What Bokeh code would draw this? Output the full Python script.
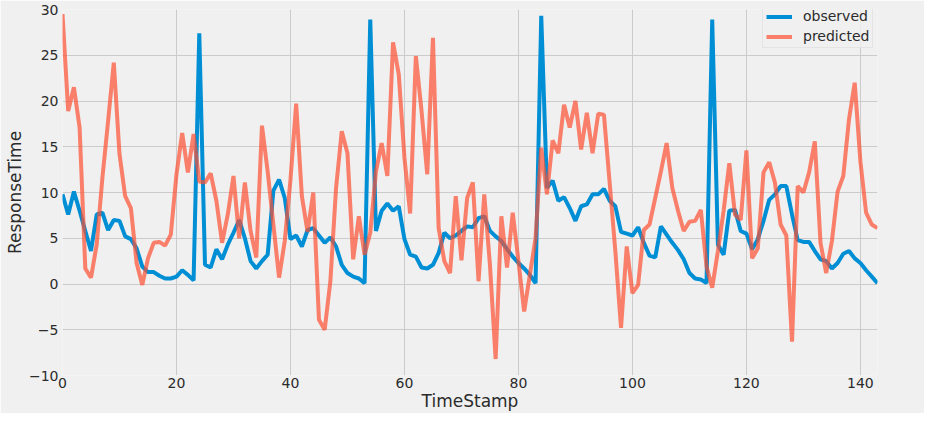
from bokeh.plotting import figure
from bokeh.models import ColumnDataSource, Legend, LegendItem, FixedTicker, Range1d
from bokeh.embed import file_html
from bokeh.resources import INLINE

timestamp = list(range(144))

observed = [
    9.8, 7.6, 10.1, 8.0, 5.8, 3.6, 7.6, 7.8, 5.9, 7.0,
    6.9, 5.2, 4.9, 3.9, 1.9, 1.3, 1.3, 0.9, 0.6, 0.6,
    0.8, 1.5, 1.0, 0.4, 27.4, 2.1, 1.8, 3.8, 2.7, 4.3,
    5.6, 7.0, 5.0, 2.5, 1.7, 2.5, 3.2, 10.2, 11.4, 9.4,
    4.9, 5.3, 4.1, 5.9, 6.1, 5.3, 4.5, 5.1, 4.1, 2.1,
    1.2, 0.8, 0.6, 0.1, 28.9, 5.8, 8.0, 8.8, 8.0, 8.5,
    4.9, 3.2, 3.0, 1.8, 1.7, 2.1, 3.4, 5.6, 5.0, 5.3,
    5.8, 6.3, 6.2, 7.2, 7.4, 5.8, 5.2, 4.7, 3.8, 3.0,
    2.3, 1.7, 1.0, 0.1, 29.3, 10.5, 11.3, 9.1, 9.5, 8.3,
    6.9, 8.5, 8.7, 9.8, 9.8, 10.4, 9.1, 8.5, 5.7, 5.5,
    5.3, 6.2, 4.5, 3.1, 2.9, 6.3, 5.4, 4.5, 3.7, 2.7,
    1.2, 0.6, 0.5, 0.1, 28.9, 4.3, 3.2, 8.0, 8.1, 5.8,
    5.5, 3.8, 4.9, 6.9, 9.2, 9.8, 10.7, 10.7, 7.6, 4.8,
    4.6, 4.6, 3.6, 2.7, 2.5, 1.7, 2.3, 3.3, 3.6, 2.8,
    2.3, 1.5, 0.8, 0.1,
]

predicted = [
    29.5, 18.9, 21.5, 17.1, 1.7, 0.7, 4.3, 11.6, 17.8, 24.2,
    14.2, 9.6, 8.3, 2.3, -0.1, 2.8, 4.5, 4.6, 4.2, 5.4,
    12.0, 16.5, 12.2, 16.4, 11.2, 11.1, 12.1, 9.1, 4.5, 7.6,
    11.8, 5.0, 11.1, 5.8, 2.9, 17.3, 12.3, 6.5, 0.7, 4.7,
    11.4, 19.7, 9.6, 5.7, 10.0, -3.9, -5.0, 0.3, 10.5, 16.7,
    14.3, 2.7, 7.4, 3.2, 5.6, 12.3, 15.4, 11.8, 26.4, 22.9,
    13.8, 7.7, 24.9, 18.9, 12.0, 26.9, 6.1, 2.5, 1.2, 9.6,
    2.6, 9.4, 11.1, 0.3, 9.8, 2.1, -8.2, 7.4, 1.8, 7.8,
    2.5, -3.0, 1.0, 5.0, 14.9, 9.8, 15.7, 14.3, 19.6, 17.1,
    20.0, 14.7, 18.7, 14.3, 18.6, 18.5, 11.1, 3.6, -4.8, 4.1,
    -1.0, -0.1, 5.9, 6.5, 9.4, 12.3, 15.4, 10.5, 8.0, 5.8,
    6.8, 6.9, 8.1, 1.9, -0.4, 3.6, 8.0, 13.2, 7.6, 7.0,
    14.6, 2.8, 3.9, 12.2, 13.3, 11.1, 6.5, 5.3, -6.3, 10.7,
    10.0, 12.2, 15.6, 4.5, 1.2, 4.7, 10.1, 11.8, 18.0, 22.0,
    13.4, 7.8, 6.5, 6.1,
]

x_ticks = [0, 20, 40, 60, 80, 100, 120, 140]
y_ticks = [-10, -5, 0, 5, 10, 15, 20, 25, 30]
y_tick_labels = ["\u221210", "\u22125", "0", "5", "10", "15", "20", "25", "30"]

source = ColumnDataSource(dict(t=timestamp, observed=observed, predicted=predicted))

BG = "#f0f0f0"
FONT = "DejaVu Sans"
TXT = "#2b2b2b"

p = figure(
    width=924, height=413,
    output_backend="svg", toolbar_location=None,
    x_range=Range1d(0, 143), y_range=Range1d(-10, 30),
    background_fill_color=BG, border_fill_color=BG,
    min_border_left=62, min_border_right=47,
    min_border_top=9, min_border_bottom=35,
)
p.outline_line_color = None

r1 = p.line("t", "observed", source=source, line_color="#008fd5", line_width=4)
r2 = p.line("t", "predicted", source=source, line_color="#fc4f30", line_width=4, line_alpha=0.7)

for ax in (p.xaxis[0], p.yaxis[0]):
    ax.axis_line_color = None
    ax.major_tick_line_color = None
    ax.minor_tick_line_color = None
    ax.major_tick_out = 0
    ax.major_tick_in = 0
    ax.minor_tick_out = 0
    ax.minor_tick_in = 0
    ax.major_label_text_font = FONT
    ax.major_label_text_font_size = "14px"
    ax.major_label_text_color = TXT
    ax.axis_label_text_font = FONT
    ax.axis_label_text_font_size = "17px"
    ax.axis_label_text_font_style = "normal"
    ax.axis_label_text_color = TXT

p.xaxis.ticker = FixedTicker(ticks=x_ticks)
p.yaxis.ticker = FixedTicker(ticks=y_ticks)
p.yaxis.major_label_overrides = {t: lab for t, lab in zip(y_ticks, y_tick_labels)}
p.xaxis.axis_label = "TimeStamp"
p.yaxis.axis_label = "ResponseTime"
p.xaxis.major_label_standoff = 2
p.yaxis.major_label_standoff = 4
p.xaxis.axis_label_standoff = 0
p.yaxis.axis_label_standoff = 1

p.grid.grid_line_color = "#cbcbcb"
p.grid.grid_line_width = 1

legend = Legend(
    items=[LegendItem(label="observed", renderers=[r1]),
           LegendItem(label="predicted", renderers=[r2])],
    location=(700, 327),
    label_text_font=FONT, label_text_font_size="14px", label_text_color=TXT,
    glyph_width=26, glyph_height=15, label_height=15, label_standoff=11,
    spacing=4, padding=3, margin=0,
    background_fill_color=BG, background_fill_alpha=0.8,
    border_line_color="#d8d8d8", border_line_width=1,
)
p.add_layout(legend)

open("out.html", "w").write(file_html(p, INLINE))
